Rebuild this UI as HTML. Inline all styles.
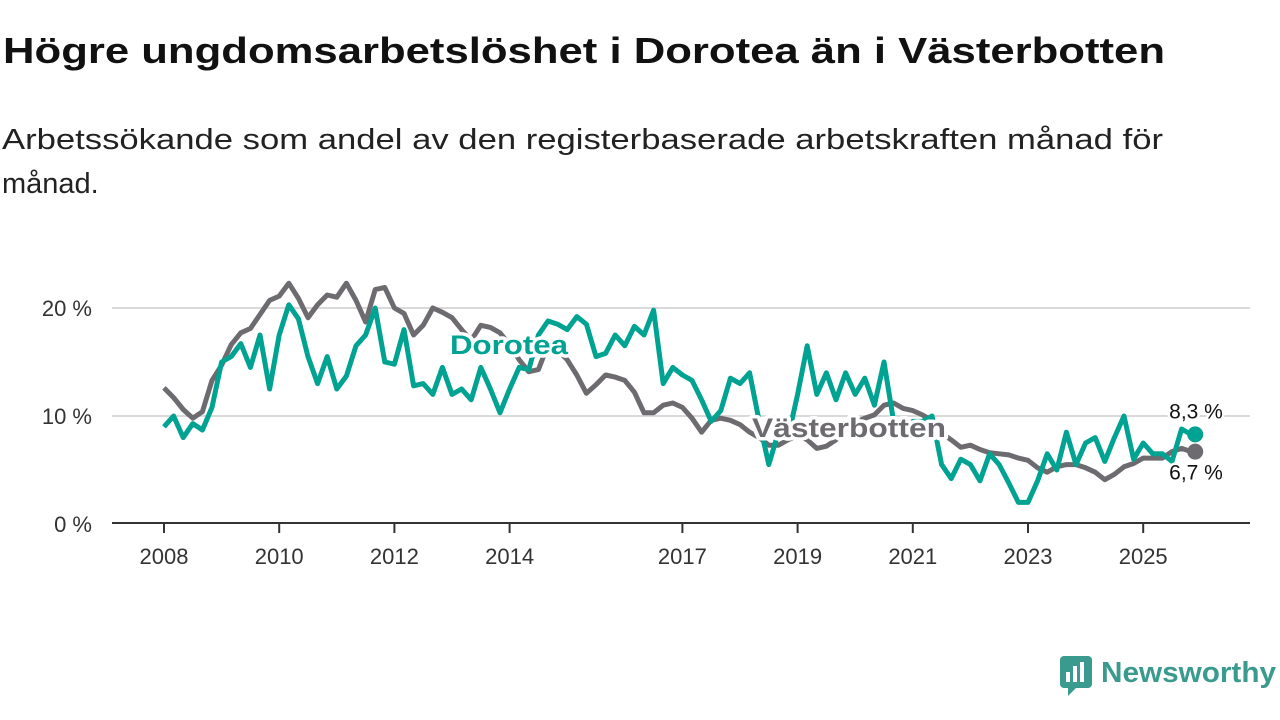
<!DOCTYPE html>
<html><head><meta charset="utf-8"><style>
html,body{margin:0;padding:0;background:#fff;}
svg{display:block;font-family:"Liberation Sans","DejaVu Sans",sans-serif;}
</style></head><body>
<svg id="chart" width="1280" height="720" viewBox="0 0 1280 720">
<text x="3" y="63" font-size="36" font-weight="bold" fill="#111" textLength="1162" lengthAdjust="spacingAndGlyphs">Högre ungdomsarbetslöshet i Dorotea än i Västerbotten</text>
<text x="2" y="149" font-size="29" fill="#222" textLength="1161" lengthAdjust="spacingAndGlyphs">Arbetssökande som andel av den registerbaserade arbetskraften månad för</text>
<text x="2" y="193" font-size="29" fill="#222">månad.</text>
<g id="grid"></g>
<g id="series"></g>
<g id="axes"></g>
<g id="labels"></g>
<g>
<rect x="1060" y="656" width="32" height="32" rx="4" fill="#3a9a8e"/>
<rect x="1066" y="672" width="4" height="10" fill="#fff"/><rect x="1073" y="666" width="4" height="16" fill="#fff"/><rect x="1080" y="662" width="4" height="20" fill="#fff"/>
<polygon points="1068,688 1076,688 1068,696" fill="#3a9a8e"/>
<text x="1101" y="682" font-size="29" font-weight="bold" fill="#3a9a8e" textLength="175" lengthAdjust="spacingAndGlyphs">Newsworthy</text>
</g>
</svg>
<script>
const startYear = 2008;
const stepYears = 1/6;
const vasterbotten = [12.6,11.7,10.6,9.8,10.4,13.3,14.7,16.6,17.7,18.1,19.4,20.7,21.1,22.3,20.9,19.1,20.3,21.2,21.0,22.3,20.7,18.7,21.7,21.9,20.0,19.5,17.5,18.4,20.0,19.6,19.1,18.0,17.0,18.4,18.2,17.7,16.6,15.2,14.1,14.3,16.6,16.1,15.2,13.8,12.1,12.9,13.8,13.6,13.3,12.2,10.3,10.3,11.0,11.2,10.8,9.8,8.5,9.6,9.8,9.6,9.2,8.5,8.0,7.3,7.3,7.8,8.2,7.8,7.0,7.2,7.8,8.7,9.4,9.8,10.1,11.0,11.2,10.7,10.5,10.1,9.6,8.4,7.8,7.1,7.3,6.9,6.6,6.5,6.4,6.1,5.9,5.2,4.8,5.3,5.5,5.5,5.2,4.8,4.1,4.6,5.3,5.6,6.1,6.1,6.1,6.7,7.0,6.7];
const dorotea = [9.0,10.0,8.0,9.3,8.7,10.8,15.0,15.5,16.7,14.5,17.5,12.5,17.5,20.3,19.0,15.5,13.0,15.5,12.5,13.7,16.5,17.5,20.0,15.0,14.8,18.0,12.8,13.0,12.0,14.5,12.0,12.5,11.5,14.5,12.5,10.3,12.5,14.5,14.3,17.5,18.8,18.5,18.0,19.2,18.5,15.5,15.8,17.5,16.5,18.3,17.5,19.8,13.0,14.5,13.8,13.3,11.5,9.5,10.5,13.5,13.0,14.0,9.5,5.5,8.5,8.0,12.0,16.5,12.0,14.0,11.5,14.0,12.0,13.5,11.0,15.0,9.5,8.5,9.5,9.5,10.0,5.5,4.2,6.0,5.5,4.0,6.5,5.5,3.8,2.0,2.0,4.0,6.5,5.0,8.5,5.5,7.5,8.0,5.8,8.0,10.0,6.0,7.5,6.5,6.5,5.8,8.8,8.3];
const yTicks = [0,10,20];
const yTickLabels = ["0 %","10 %","20 %"];
const xTicks = [2008,2010,2012,2014,2017,2019,2021,2023,2025];
const endLabels = ["8,3 %","6,7 %"];

const NS="http://www.w3.org/2000/svg";
const xScale = yr => 164 + (yr-2008)*57.6;
const yScale = v => 524 - v*10.8;
function mk(tag, attrs, parent){const e=document.createElementNS(NS,tag);for(const k in attrs)e.setAttribute(k,attrs[k]);parent.appendChild(e);return e;}
const grid=document.getElementById('grid'), series=document.getElementById('series'), axes=document.getElementById('axes'), labels=document.getElementById('labels');

yTicks.forEach((t,i)=>{
  if(t>0){const l=mk('line',{x1:112,x2:1250,y1:yScale(t),y2:yScale(t),stroke:'#d9d9d9','stroke-width':2},grid);
  
  }
  const tx=mk('text',{x:92,y:yScale(t)+8,'font-size':22,fill:'#333','text-anchor':'end'},axes);
  tx.textContent=yTickLabels[i];
  
  
});
const base=mk('line',{x1:112,x2:1250,y1:523,y2:523,stroke:'#333','stroke-width':2},axes);


xTicks.forEach(y=>{
  const x=xScale(y);
  const tk=mk('line',{x1:x,x2:x,y1:523,y2:533,stroke:'#333','stroke-width':2},axes);
  
  
  const tx=mk('text',{x:x,y:564,'font-size':22,fill:'#333','text-anchor':'middle'},axes);
  tx.textContent=y;
  
  
});
function path(vals){return vals.map((v,i)=>(i?'L':'M')+xScale(startYear+i*stepYears).toFixed(1)+','+yScale(v).toFixed(1)).join(' ');}
const pv=mk('path',{d:path(vasterbotten),fill:'none',stroke:'#6d6b70','stroke-width':5,'stroke-linejoin':'round'},series);


const pd=mk('path',{d:path(dorotea),fill:'none',stroke:'#00a292','stroke-width':5,'stroke-linejoin':'round'},series);


const lastX=xScale(startYear+(dorotea.length-1)*stepYears)+4;
const dv=mk('circle',{cx:lastX,cy:yScale(vasterbotten[vasterbotten.length-1]),r:8,fill:'#6d6b70'},series);


const dd=mk('circle',{cx:lastX,cy:yScale(dorotea[dorotea.length-1]),r:8,fill:'#00a292'},series);


const e1=mk('text',{x:1196,y:yScale(dorotea[dorotea.length-1])-16,'font-size':21,fill:'#111','text-anchor':'middle',stroke:'#fff','stroke-width':5,'paint-order':'stroke'},labels);
e1.textContent=endLabels[0];


const e2=mk('text',{x:1196,y:yScale(vasterbotten[vasterbotten.length-1])+28,'font-size':21,fill:'#111','text-anchor':'middle',stroke:'#fff','stroke-width':5,'paint-order':'stroke'},labels);
e2.textContent=endLabels[1];


const l1=mk('text',{x:450,y:354,'font-size':27,'font-weight':'bold',fill:'#00a292',stroke:'#fff','stroke-width':7,'paint-order':'stroke','stroke-linejoin':'round',textLength:118,lengthAdjust:'spacingAndGlyphs'},labels);
l1.textContent='Dorotea';


const l2=mk('text',{x:752,y:437,'font-size':27,'font-weight':'bold',fill:'#6d6b70',stroke:'#fff','stroke-width':7,'paint-order':'stroke','stroke-linejoin':'round',textLength:194,lengthAdjust:'spacingAndGlyphs'},labels);
l2.textContent='Västerbotten';


</script>
</body></html>
